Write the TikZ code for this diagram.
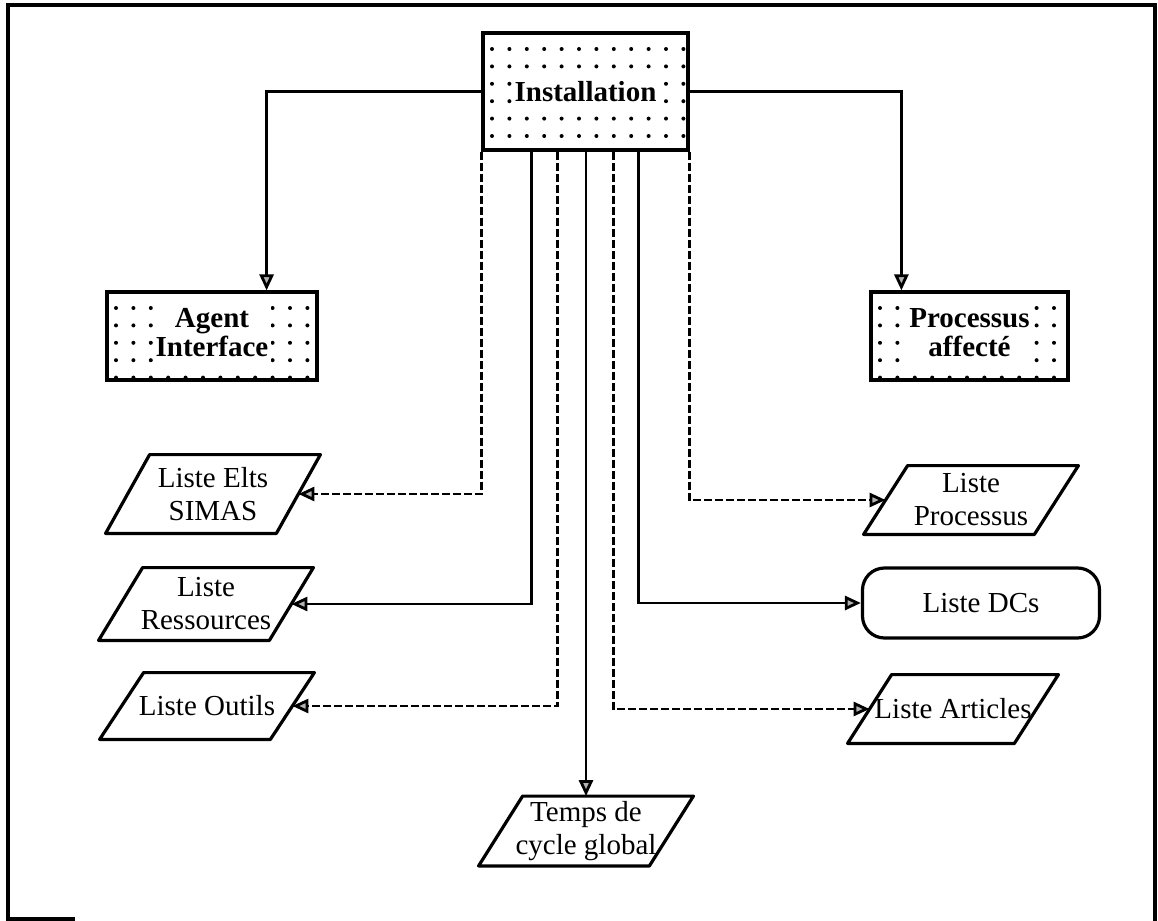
\documentclass[tikz,border=0pt]{standalone}
\usepackage{fontspec}
\setmainfont{Liberation Serif}
\usetikzlibrary{arrows.meta,calc}
\setlength{\fboxsep}{1.5pt}
\begin{document}
\begin{tikzpicture}[x=0.5pt,y=-0.5pt,
  font=\fontsize{14.5}{16.5}\selectfont,
  stipplebox/.style={draw, line width=1.6pt, inner sep=0pt, align=center,
    font=\fontsize{14.5}{14}\selectfont\bfseries,
    path picture={
      \foreach \i in {0,...,12}{\foreach \j in {0,...,6}{
        \fill ($(path picture bounding box.north west)+(9+17.4*\i,16+17.4*\j)$) circle[radius=2];
      }}}},
  datanode/.style={inner sep=0pt, align=center},
  roundbox/.style={draw, line width=1.6pt, rounded corners=11pt, inner sep=0pt, align=center},
  link/.style={line width=1.4pt, -{Triangle[length=8pt,width=7pt,fill=gray!60]}},
  dlink/.style={link, dash pattern=on 4pt off 1.5pt},
  border/.style={line width=1.6pt, line join=round}
]
\useasboundingbox (0,0) rectangle (1158,921);

% outer frame, open at the bottom
\draw[line width=2.2pt] (8,921) -- (8,5) -- (1155,5) -- (1155,921);
\draw[line width=2.2pt] (8,919) -- (75,919);

% stippled boxes
\node[stipplebox, minimum width=102.5pt, minimum height=58.5pt] (inst) at (585.5,91.5)
  {\colorbox{white}{Installation}};
\node[stipplebox, minimum width=105pt, minimum height=44pt] (agent) at (212,336)
  {\colorbox{white}{\begin{tabular}{@{}c@{}}Agent\\Interface\end{tabular}}};
\node[stipplebox, minimum width=98.5pt, minimum height=44pt] (paff) at (969.5,336)
  {\colorbox{white}{\begin{tabular}{@{}c@{}}Processus\\affecté\end{tabular}}};

% data stores (parallelograms drawn below)
\node[datanode, minimum width=85pt, minimum height=39pt] (simas) at (213,494) {Liste Elts\\SIMAS};
\node[datanode, minimum width=85pt, minimum height=36pt] (ress) at (206,604) {Liste\\Ressources};
\node[datanode, minimum width=85pt, minimum height=33pt] (outils) at (207,706) {Liste Outils};
\node[datanode, minimum width=85pt, minimum height=34pt] (lproc) at (971,500) {Liste\\Processus};
\node[datanode, minimum width=83pt, minimum height=34pt] (art) at (953,709) {Liste Articles};
\node[datanode, minimum width=85pt, minimum height=34.5pt] (temps) at (586,831) {Temps de\\cycle global};
\node[roundbox, minimum width=118.5pt, minimum height=35pt] (dcs) at (981,603) {Liste DCs};

\foreach \n in {simas,ress,outils,lproc,art,temps}
  \draw[border] ($(\n.south west)+(-22,0)$) -- ($(\n.north west)+(22,0)$)
    -- ($(\n.north east)+(22,0)$) -- ($(\n.south east)+(-22,0)$) -- cycle;

% connectors
\draw[link] (inst.west) -| ($(agent.north east)+(-52,0)$);
\draw[link] (inst.east) -| ($(paff.north west)+(32,0)$);
\draw[dlink] (inst.south west) |- (simas.east);
\draw[link] ($(inst.south west)+(50,0)$) |- (ress.east);
\draw[dlink] ($(inst.south west)+(76,0)$) |- (outils.east);
\draw[link] (temps.north |- inst.south) -- (temps.north);
\draw[dlink] ($(inst.south east)+(-76,0)$) |- (art.west);
\draw[link] ($(inst.south east)+(-51,0)$) |- (dcs.west);
\draw[dlink] (inst.south east) |- (lproc.west);
\end{tikzpicture}
\end{document}
